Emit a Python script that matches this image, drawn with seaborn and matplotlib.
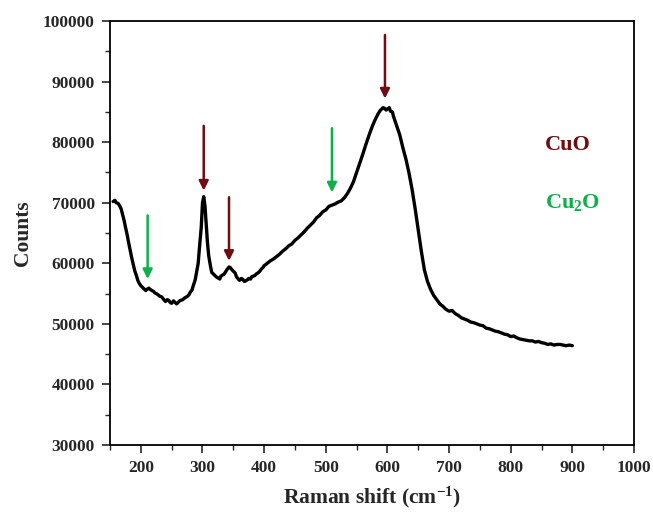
import numpy as np
import pandas as pd
import matplotlib
matplotlib.use("Agg")
import matplotlib.pyplot as plt
import seaborn as sns

# ---- data ----
raman_shift = [155, 158, 160, 163, 165, 168, 170, 173, 175, 178, 180, 183, 185, 188, 190, 193, 195, 198,
               200, 203, 205, 208, 210, 213, 215, 218, 220, 223, 225, 228, 230, 233, 235, 238, 240, 243,
               245, 248, 250, 253, 255, 258, 260, 263, 265, 268, 270, 273, 275, 278, 280, 283, 285, 288,
               290, 293, 295, 298, 300, 302, 304, 306, 308, 310, 313, 315, 318, 320, 323, 325, 328, 330,
               333, 335, 338, 340, 343, 345, 348, 350, 353, 355, 358, 360, 363, 365, 368, 370, 373, 375,
               378, 380, 383, 385, 388, 390, 393, 395, 398, 400, 405, 410, 415, 420, 425, 430, 435, 440,
               445, 450, 455, 460, 465, 470, 475, 480, 485, 490, 495, 500, 505, 510, 515, 520, 525, 530,
               535, 540, 545, 550, 555, 560, 565, 570, 575, 580, 585, 588, 590, 593, 595, 598, 600, 603,
               605, 608, 610, 615, 620, 625, 630, 635, 640, 645, 650, 655, 660, 665, 670, 675, 680, 685,
               690, 695, 700, 705, 710, 715, 720, 725, 730, 735, 740, 745, 750, 755, 760, 765, 770, 775,
               780, 785, 790, 795, 800, 805, 810, 815, 820, 825, 830, 835, 840, 845, 850, 855, 860, 865,
               870, 875, 880, 885, 890, 895, 900]
counts = [70200, 70400, 70000, 69900, 69600, 69000, 68200, 67000, 66000, 64600, 63500, 62000, 61000, 59700,
          58800, 57900, 57200, 56600, 56300, 56000, 55800, 55500, 55700, 55900, 55700, 55500, 55400, 55100,
          55000, 54800, 54600, 54500, 54300, 53900, 53700, 54000, 53900, 53500, 53400, 53800, 53600, 53300,
          53500, 53800, 53900, 54000, 54200, 54400, 54500, 54800, 55200, 55600, 56300, 57200, 58300, 60000,
          62500, 66000, 70000, 71000, 69500, 66500, 63500, 61300, 59500, 58500, 58200, 58000, 57700, 57600,
          57400, 57900, 58100, 58200, 58700, 59000, 59400, 59300, 58900, 58700, 58400, 57800, 57400, 57200,
          57500, 57400, 57000, 57100, 57300, 57500, 57400, 57800, 57900, 58000, 58300, 58400, 58700, 59000,
          59300, 59600, 60000, 60400, 60700, 61100, 61500, 62000, 62400, 62900, 63200, 63800, 64200, 64700,
          65200, 65800, 66300, 66800, 67500, 67900, 68500, 68800, 69400, 69600, 69800, 70100, 70300, 70800,
          71500, 72400, 73500, 75000, 76500, 78000, 79600, 81100, 82500, 83700, 84700, 85200, 85400, 85700,
          85600, 85300, 85500, 85700, 85100, 85000, 84200, 82700, 81200, 79100, 77200, 74900, 72200, 69000,
          65500, 62000, 58900, 57000, 55700, 54700, 54000, 53300, 52900, 52400, 52100, 52200, 51700, 51400,
          51000, 50800, 50600, 50300, 50200, 50000, 49800, 49700, 49300, 49200, 49000, 48800, 48700, 48500,
          48300, 48200, 47900, 48000, 47700, 47500, 47400, 47300, 47200, 47200, 47000, 47100, 46900, 46800,
          46600, 46700, 46500, 46600, 46600, 46500, 46400, 46500, 46400]

cuo_arrow_x = [302, 343, 596]
cuo_arrow_top = [82700, 70900, 97700]
cuo_arrow_tip = [72000, 60400, 87200]
cu2o_arrow_x = [211, 510]
cu2o_arrow_top = [67900, 82300]
cu2o_arrow_tip = [57400, 71700]

legend_labels = ["CuO", r"Cu$_\mathrm{2}$O"]
x_ticks = [200, 300, 400, 500, 600, 700, 800, 900, 1000]
y_ticks = [30000, 40000, 50000, 60000, 70000, 80000, 90000, 100000]

# ---- styling ----
sns.set_style("ticks")
plt.rcParams['font.family'] = ['Liberation Serif', 'DejaVu Serif']
plt.rcParams['font.weight'] = 'bold'
plt.rcParams['mathtext.fontset'] = 'custom'
plt.rcParams['mathtext.rm'] = 'Liberation Serif:bold'
plt.rcParams['mathtext.it'] = 'Liberation Serif:bold:italic'
plt.rcParams['mathtext.bf'] = 'Liberation Serif:bold'

CUO_COLOR = "#6E0E12"
CU2O_COLOR = "#0DB14B"

fig = plt.figure(figsize=(6.53, 5.14), dpi=100)
ax = fig.add_axes([0.1685, 0.1342, 0.8024, 0.8249])

df = pd.DataFrame({"shift": raman_shift, "counts": counts})
sns.lineplot(data=df, x="shift", y="counts", ax=ax, color="black", linewidth=2.4)

for x, top, tip in zip(cuo_arrow_x, cuo_arrow_top, cuo_arrow_tip):
    ax.annotate("", xy=(x, tip), xytext=(x, top),
                arrowprops=dict(arrowstyle="-|>", color=CUO_COLOR, lw=1.8, mutation_scale=14,
                                shrinkA=0, shrinkB=0))
for x, top, tip in zip(cu2o_arrow_x, cu2o_arrow_top, cu2o_arrow_tip):
    ax.annotate("", xy=(x, tip), xytext=(x, top),
                arrowprops=dict(arrowstyle="-|>", color=CU2O_COLOR, lw=1.8, mutation_scale=14,
                                shrinkA=0, shrinkB=0))

ax.text(855, 79500, legend_labels[0], color=CUO_COLOR, fontsize=16, fontweight='bold',
        va='center', ha='left')
ax.text(855, 70000, legend_labels[1], color=CU2O_COLOR, fontsize=16, fontweight='bold',
        va='center', ha='left')

ax.set_xlim(150, 1000)
ax.set_ylim(30000, 100000)
ax.set_xticks(x_ticks)
ax.set_yticks(y_ticks)
ax.set_xticks(np.arange(150, 1001, 100), minor=True)
ax.set_yticks(np.arange(35000, 100000, 10000), minor=True)
ax.tick_params(which='major', direction='out', length=6, width=1.2, labelsize=12.5, pad=5,
               top=False, right=False)
ax.tick_params(which='minor', direction='out', length=3.5, width=1.0, top=False, right=False)
for lbl in ax.get_xticklabels() + ax.get_yticklabels():
    lbl.set_fontweight('bold')
for sp in ax.spines.values():
    sp.set_visible(True)
    sp.set_linewidth(1.3)
    sp.set_color("black")

ax.set_xlabel(r"Raman shift (cm$^{\mathrm{-1}}$)", fontsize=15.5, fontweight='bold', labelpad=6)
ax.set_ylabel("Counts", fontsize=15.5, fontweight='bold', labelpad=7)

fig.savefig("out.png", dpi=100)
